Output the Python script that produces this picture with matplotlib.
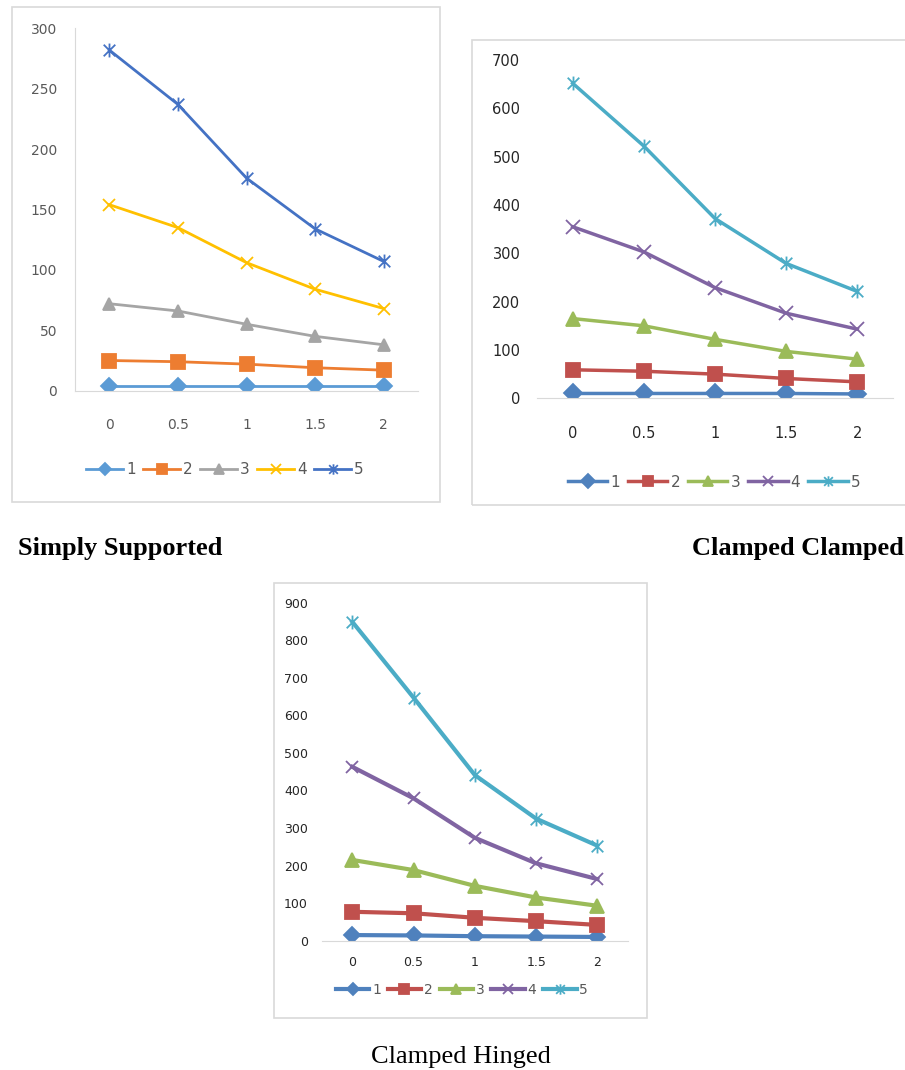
import numpy as np
import matplotlib
matplotlib.use("Agg")
import matplotlib.pyplot as plt
from matplotlib.path import Path
from matplotlib.patches import Rectangle

# data
categories = ["0", "0.5", "1", "1.5", "2"]
series_names = ["1", "2", "3", "4", "5"]

simply_1 = [4, 4, 4, 4, 4]
simply_2 = [25, 24, 22, 19, 17]
simply_3 = [72, 66, 55, 45, 38]
simply_4 = [154, 135, 106, 84, 68]
simply_5 = [282, 237, 176, 134, 107]

clamped_1 = [10, 10, 10, 10, 9]
clamped_2 = [59, 56, 50, 41, 34]
clamped_3 = [165, 150, 122, 97, 81]
clamped_4 = [355, 303, 229, 176, 143]
clamped_5 = [652, 522, 372, 279, 221]

hinged_1 = [15, 14, 12, 11, 10]
hinged_2 = [77, 73, 61, 52, 42]
hinged_3 = [215, 188, 146, 115, 93]
hinged_4 = [463, 379, 274, 206, 164]
hinged_5 = [849, 647, 441, 325, 253]

W, H = 905, 1070

# star marker (x plus vertical bar) like excel
star = Path([(-1, -1), (1, 1), (-1, 1), (1, -1), (0, -1.2), (0, 1.2)],
            [Path.MOVETO, Path.LINETO, Path.MOVETO, Path.LINETO, Path.MOVETO, Path.LINETO])
markers = ["D", "s", "^", "x", star]

colors_2013 = ["#5B9BD5", "#ED7D31", "#A5A5A5", "#FFC000", "#4472C4"]
colors_2007 = ["#4F81BD", "#C0504D", "#9BBB59", "#8064A2", "#4BACC6"]

fig = plt.figure(figsize=(W / 100, H / 100), dpi=100)


def px_axes(x0, y0, x1, y1):
    return fig.add_axes([x0 / W, 1 - y1 / H, (x1 - x0) / W, (y1 - y0) / H])


def frame(x0, y0, x1, y1):
    fig.patches.append(Rectangle((x0 / W, 1 - y1 / H), (x1 - x0) / W, (y1 - y0) / H,
                                 transform=fig.transFigure, fill=False,
                                 edgecolor="#D9D9D9", linewidth=1.2))


def chart(ax, data, colors, ymax, ystep, lw, msizes, tcolor, fs, xpad, ypad, left_line,
          leg_pos, leg_fs, leg_len):
    x = np.arange(len(categories))
    for i, ys in enumerate(data):
        mfc = "none" if i >= 3 else colors[i]
        ax.plot(x, ys, color=colors[i], linewidth=lw, marker=markers[i], markersize=msizes[i],
                markerfacecolor=mfc, markeredgecolor=colors[i], markeredgewidth=1.3,
                label=series_names[i])
    ax.set_xlim(-0.5, len(categories) - 0.5)
    ax.set_ylim(0, ymax)
    ax.set_yticks(np.arange(0, ymax + 1, ystep))
    ax.set_xticks(x)
    ax.set_xticklabels(categories)
    ax.tick_params(length=0, labelsize=fs, labelcolor=tcolor)
    ax.tick_params(axis="x", pad=xpad)
    ax.tick_params(axis="y", pad=ypad)
    for s in ["top", "right"]:
        ax.spines[s].set_visible(False)
    ax.spines["bottom"].set_color("#D9D9D9")
    ax.spines["left"].set_color("#D9D9D9")
    ax.spines["left"].set_visible(left_line)
    ax.patch.set_alpha(0)
    ax.legend(loc="center", bbox_to_anchor=(leg_pos[0] / W, 1 - leg_pos[1] / H),
              bbox_transform=fig.transFigure, ncol=5, frameon=False, fontsize=leg_fs,
              handlelength=leg_len, handletextpad=0.2, columnspacing=0.5,
              markerscale=0.75, labelcolor="#595959")


#Simply Supported
frame(12, 7, 440, 502)
ax1 = px_axes(75, 28.3, 418, 390.7)
chart(ax1, [simply_1, simply_2, simply_3, simply_4, simply_5], colors_2013, 300, 50, 2,
      [8, 10, 9, 9, 10], "#595959", 10, 20, 13, True, (225, 470), 11, 2.4)

#Clamped Clamped
frame(472, 40, 906, 505)
ax2 = px_axes(537, 60, 893, 398.3)
chart(ax2, [clamped_1, clamped_2, clamped_3, clamped_4, clamped_5], colors_2007, 700, 100, 2.5,
      [9, 10, 10, 10, 10], "#262626", 10.5, 20, 12, False, (714, 482), 11, 2.6)

#Clamped Hinged
frame(274, 583, 647, 1018)
ax3 = px_axes(321.7, 602.7, 628, 940.7)
chart(ax3, [hinged_1, hinged_2, hinged_3, hinged_4, hinged_5], colors_2007, 900, 100, 3,
      [8, 10, 10, 9, 10], "#262626", 9, 11, 10, False, (462, 990), 10, 2.4)

# captions
fig.text(18 / W, 1 - 548 / H, "Simply Supported", family="Liberation Serif", fontweight="bold",
         fontsize=19, ha="left", va="center")
fig.text(904 / W, 1 - 548 / H, "Clamped Clamped", family="Liberation Serif", fontweight="bold",
         fontsize=19, ha="right", va="center")
fig.text(461 / W, 1 - 1057 / H, "Clamped Hinged", family="Liberation Serif",
         fontsize=19, ha="center", va="center")

plt.savefig("out.png", dpi=100)
